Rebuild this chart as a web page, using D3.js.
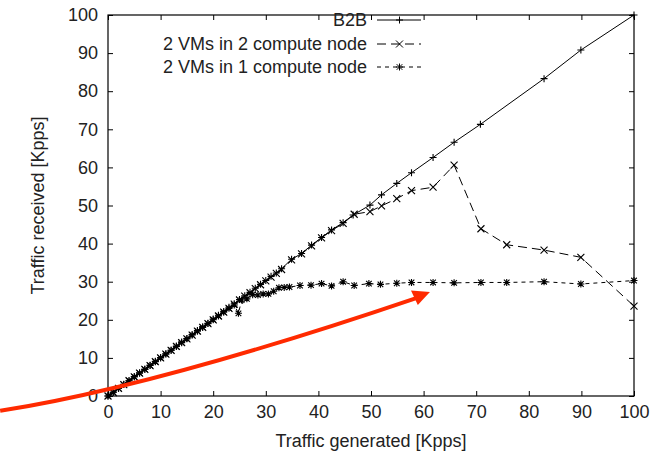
<!DOCTYPE html>
<html>
<head>
<meta charset="utf-8">
<script src="https://cdn.jsdelivr.net/npm/d3@7"></script>
<style>
  body { margin: 0; background: #fff; }
  svg { font-family: "Liberation Sans", Arial, sans-serif; }
</style>
</head>
<body>
<div id="container"></div>
<script>
var width = 666,
    height = 456;

var margin = {top: 15, right: 32, bottom: 60, left: 108};

// series data
var b2bX = [0, 1, 2, 3, 4, 5, 6, 7, 8, 9, 10, 11, 12, 13, 14, 15, 16, 17, 18, 19, 20, 21, 22, 23, 24, 25, 26, 27, 28, 29, 30, 31, 32, 33,
    34.9, 36.8, 38.7, 40.6, 42.5, 44.7, 46.6, 49.8, 52.0, 54.9, 57.7, 61.8, 65.8, 70.8, 82.9, 89.9, 100];
var b2bY = [0, 1.0, 2.0, 3.1, 4.0, 5.1, 6.1, 7.0, 8.1, 9.1, 10.1, 11.1, 12.0, 13.1, 14.2, 15.1, 16.1, 17.2, 18.2, 19.1, 20.2, 21.2, 22.2, 23.3, 24.2, 25.3, 26.3, 27.2, 28.3, 29.3, 30.3, 31.4, 32.3, 33.4,
    35.9, 37.4, 39.6, 41.6, 43.6, 45.5, 47.5, 50.1, 52.8, 55.8, 58.6, 62.6, 66.6, 71.3, 83.3, 90.8, 100];

var twoNodeX = [0, 1, 2, 3, 4, 5, 6, 7, 8, 9, 10, 11, 12, 13, 14, 15, 16, 17, 18, 19, 20, 21, 22, 23, 24, 25, 26, 27, 28, 29, 30, 31, 32, 33,
    34.9, 36.8, 38.7, 40.6, 42.5, 44.7, 46.8, 49.8, 52.0, 54.9, 57.7, 61.8, 65.8, 70.9, 75.8, 82.9, 89.9, 100];
var twoNodeY = [0, 0.9, 2.0, 3.0, 4.0, 5.0, 6.0, 7.0, 8.0, 9.0, 10.0, 11.0, 12.0, 13.0, 14.0, 15.0, 16.0, 17.0, 18.0, 19.0, 20.0, 21.0, 22.0, 23.0, 24.1, 25.2, 26.2, 27.1, 28.2, 29.2, 30.2, 31.2, 32.2, 33.2,
    35.7, 37.3, 39.4, 41.5, 43.4, 45.3, 47.7, 48.4, 49.9, 51.8, 53.9, 54.8, 60.6, 43.9, 39.7, 38.3, 36.4, 23.6];

var oneNodeX = [0, 1, 2, 3, 4, 5, 6, 7, 8, 9, 10, 11, 12, 13, 14, 15, 16, 17, 18, 19, 20, 21, 22, 23, 24,
    24.8, 25.4, 26.4, 27.5, 28.5, 29.5, 30.5, 31.5, 32.5, 33.5, 34.5, 36.5, 38.6, 40.6, 42.5, 44.7, 46.8, 49.6, 51.8, 54.9, 57.7, 61.8, 65.8, 70.9, 75.8, 82.9, 89.9, 100];
var oneNodeY = [0, 1.0, 2.0, 3.0, 4.0, 5.0, 6.0, 7.0, 8.0, 9.0, 10.0, 11.0, 12.0, 13.0, 14.0, 15.0, 16.0, 17.0, 18.0, 19.0, 20.0, 21.0, 22.0, 23.0, 23.9,
    21.7, 25.2, 25.5, 26.6, 26.5, 26.8, 26.8, 27.5, 28.4, 28.5, 28.6, 29.0, 29.1, 29.5, 28.9, 30.0, 29.0, 29.5, 29.3, 29.6, 29.8, 29.8, 29.7, 29.8, 29.8, 30.0, 29.4, 30.3];

var xTicks = [0, 10, 20, 30, 40, 50, 60, 70, 80, 90, 100];
var yTicks = [0, 10, 20, 30, 40, 50, 60, 70, 80, 90, 100];

var seriesNames = ["B2B", "2 VMs in 2 compute node", "2 VMs in 1 compute node"];

// red annotation arrow, in data units (start, control, end / head)
var arrowCurve = [[-20.5, -3.9], [8.9, 2.4], [58.6, 25.7]];
var arrowHead = [[61.2, 27.3], [57.6, 27.7], [58.9, 23.9]];

var x = d3.scaleLinear().domain([0, 100]).range([margin.left, width - margin.right]);
var y = d3.scaleLinear().domain([0, 100]).range([height - margin.bottom, margin.top]);

var svg = d3.select("#container").append("svg")
    .attr("width", width)
    .attr("height", height);

var x0 = x(0), x1 = x(100), y0 = y(0), y1 = y(100);
var tick = 5;
var fontSize = 18;

// axes (gnuplot style, ticks inward, mirrored)
var axisColor = "#000";
svg.append("g")
    .attr("transform", "translate(0," + y0 + ")")
    .call(d3.axisBottom(x).tickValues(xTicks).tickSizeInner(-tick).tickSizeOuter(0).tickPadding(9))
    .call(g => g.select(".domain").remove());
svg.append("g")
    .attr("transform", "translate(0," + y1 + ")")
    .call(d3.axisTop(x).tickValues(xTicks).tickSizeInner(-tick).tickSizeOuter(0).tickFormat(""))
    .call(g => g.select(".domain").remove());
svg.append("g")
    .attr("transform", "translate(" + x0 + ",0)")
    .call(d3.axisLeft(y).tickValues(yTicks).tickSizeInner(-tick).tickSizeOuter(0).tickPadding(10))
    .call(g => g.select(".domain").remove());
svg.append("g")
    .attr("transform", "translate(" + x1 + ",0)")
    .call(d3.axisRight(y).tickValues(yTicks).tickSizeInner(-tick).tickSizeOuter(0).tickFormat(""))
    .call(g => g.select(".domain").remove());

svg.selectAll(".tick line").attr("stroke", axisColor).attr("stroke-width", 1);
svg.selectAll(".tick text")
    .attr("font-size", fontSize)
    .attr("fill", "#222")
    .attr("font-family", "'Liberation Sans', Arial, sans-serif");

svg.append("rect")
    .attr("x", x0).attr("y", y1)
    .attr("width", x1 - x0).attr("height", y0 - y1)
    .attr("fill", "none")
    .attr("stroke", axisColor)
    .attr("stroke-width", 1.2);

// axis titles
svg.append("text")
    .attr("x", (x0 + x1) / 2)
    .attr("y", 447)
    .attr("text-anchor", "middle")
    .attr("font-size", fontSize)
    .attr("fill", "#222")
    .text("Traffic generated [Kpps]");
svg.append("text")
    .attr("transform", "translate(44," + ((y0 + y1) / 2) + ") rotate(-90)")
    .attr("text-anchor", "middle")
    .attr("font-size", fontSize)
    .attr("fill", "#222")
    .text("Traffic received [Kpps]");

// marker shapes
function plusPath(s) {
    return "M" + (-s) + ",0H" + s + "M0," + (-s) + "V" + s;
}
function crossPath(s) {
    return "M" + (-s) + "," + (-s) + "L" + s + "," + s + "M" + (-s) + "," + s + "L" + s + "," + (-s);
}
function starPath(s) {
    return plusPath(s) + crossPath(s * 0.8);
}

var series = [
    {name: seriesNames[0], xs: b2bX, ys: b2bY, dash: null, marker: plusPath(3.5)},
    {name: seriesNames[1], xs: twoNodeX, ys: twoNodeY, dash: "9,5", marker: crossPath(3.5)},
    {name: seriesNames[2], xs: oneNodeX, ys: oneNodeY, dash: "4,4", marker: starPath(3.5)}
];

var line = d3.line().x(d => x(d[0])).y(d => y(d[1]));

series.forEach(function(s) {
    var pts = s.xs.map((v, i) => [v, s.ys[i]]);
    var g = svg.append("g");
    g.append("path")
        .datum(pts)
        .attr("d", line)
        .attr("fill", "none")
        .attr("stroke", "#000")
        .attr("stroke-width", 1)
        .attr("stroke-dasharray", s.dash);
    g.selectAll("path.m")
        .data(pts)
        .join("path")
        .attr("class", "m")
        .attr("transform", d => "translate(" + x(d[0]) + "," + y(d[1]) + ")")
        .attr("d", s.marker)
        .attr("fill", "none")
        .attr("stroke", "#000")
        .attr("stroke-width", 1.1);
});

// legend
var legendRows = [20, 44, 67];
series.forEach(function(s, i) {
    var ly = legendRows[i];
    svg.append("text")
        .attr("x", 367)
        .attr("y", ly)
        .attr("dy", "0.35em")
        .attr("text-anchor", "end")
        .attr("font-size", fontSize)
        .attr("fill", "#222")
        .text(s.name);
    svg.append("line")
        .attr("x1", 377).attr("x2", 421)
        .attr("y1", ly).attr("y2", ly)
        .attr("stroke", "#000")
        .attr("stroke-width", 1)
        .attr("stroke-dasharray", s.dash);
    svg.append("path")
        .attr("transform", "translate(399.5," + ly + ")")
        .attr("d", s.marker)
        .attr("fill", "none")
        .attr("stroke", "#000");
});

// red annotation arrow
var c = arrowCurve.map(p => [x(p[0]), y(p[1])]);
svg.append("path")
    .attr("d", "M" + c[0] + "Q" + c[1] + " " + c[2])
    .attr("fill", "none")
    .attr("stroke", "#ff2a00")
    .attr("stroke-width", 4);
svg.append("path")
    .attr("d", "M" + arrowHead.map(p => [x(p[0]), y(p[1])]).join("L") + "Z")
    .attr("fill", "#ff2a00");
</script>
</body>
</html>
